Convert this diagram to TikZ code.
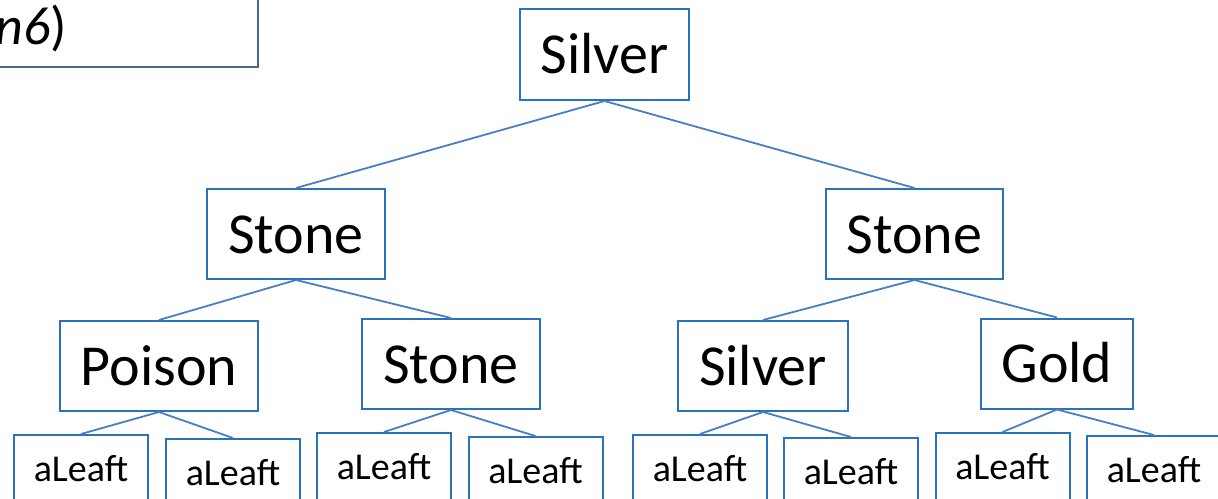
\documentclass[tikz,border=0pt]{standalone}
\usepackage{fontspec}
\setmainfont{Carlito}
\definecolor{boxblue}{RGB}{40,114,192}
\definecolor{linkblue}{RGB}{74,126,192}
\definecolor{noteblue}{RGB}{70,100,150}
\tikzset{
  bigbox/.style={draw=boxblue, line width=2pt, rectangle, inner sep=0pt,
    minimum height=90pt, font=\fontsize{58}{60}\selectfont,
    text height=44pt, text depth=6pt},
  leafbox/.style={draw=boxblue, line width=2pt, rectangle, inner sep=0pt,
    minimum width=134pt, minimum height=90pt, anchor=north,
    font=\fontsize{38}{40}\selectfont, text height=20pt, text depth=18pt},
  link/.style={draw=linkblue, line width=1.8pt},
}
\begin{document}
\begin{tikzpicture}[x=1pt,y=-1pt]
\useasboundingbox (0,0) rectangle (1218,498);
\clip (0,0) rectangle (1218,498);
\fill[white] (0,0) rectangle (1218,498);

% partially visible caption box in the top-left corner
\node[draw=noteblue, line width=1.6pt, rectangle, inner sep=0pt, anchor=south east,
      minimum width=320pt, minimum height=100pt] (note) at (259,68) {};
\node[anchor=base east, inner sep=0pt, font=\fontsize{54}{56}\selectfont]
      (notetext) at (67,44) {\textit{n6})};

% level 0
\node[bigbox, minimum width=169pt, minimum height=91pt] (root) at (604.5,54.5) {Silver};
% level 1
\node[bigbox, minimum width=178pt] (s1) at (296,234) {Stone};
\node[bigbox, minimum width=177pt] (s2) at (914.5,234) {Stone};
% level 2
\node[bigbox, minimum width=198pt] (p1) at (159,366) {Poison};
\node[bigbox, minimum width=178pt] (s3) at (451,364) {Stone};
\node[bigbox, minimum width=170pt] (v2) at (763,366) {Silver};
\node[bigbox, minimum width=152pt] (g1) at (1057,363.5) {Gold};
% level 3 leaves
\node[leafbox] (l1) at (81,434) {aLeaft};
\node[leafbox] (l2) at (233,438) {aLeaft};
\node[leafbox] (l3) at (384,432) {aLeaft};
\node[leafbox] (l4) at (535.5,436) {aLeaft};
\node[leafbox] (l5) at (700,434) {aLeaft};
\node[leafbox] (l6) at (851,437) {aLeaft};
\node[leafbox] (l7) at (1002.5,432) {aLeaft};
\node[leafbox] (l8) at (1154,435) {aLeaft};

% connectors
\draw[link] (root.south) -- (s1.north);
\draw[link] (root.south) -- (s2.north);
\draw[link] (s1.south) -- (p1.north);
\draw[link] (s1.south) -- (s3.north);
\draw[link] (s2.south) -- (v2.north);
\draw[link] (s2.south) -- (g1.north);
\draw[link] (p1.south) -- (l1.north);
\draw[link] (p1.south) -- (l2.north);
\draw[link] (s3.south) -- (l3.north);
\draw[link] (s3.south) -- (l4.north);
\draw[link] (v2.south) -- (l5.north);
\draw[link] (v2.south) -- (l6.north);
\draw[link] (g1.south) -- (l7.north);
\draw[link] (g1.south) -- (l8.north);
\end{tikzpicture}
\end{document}
